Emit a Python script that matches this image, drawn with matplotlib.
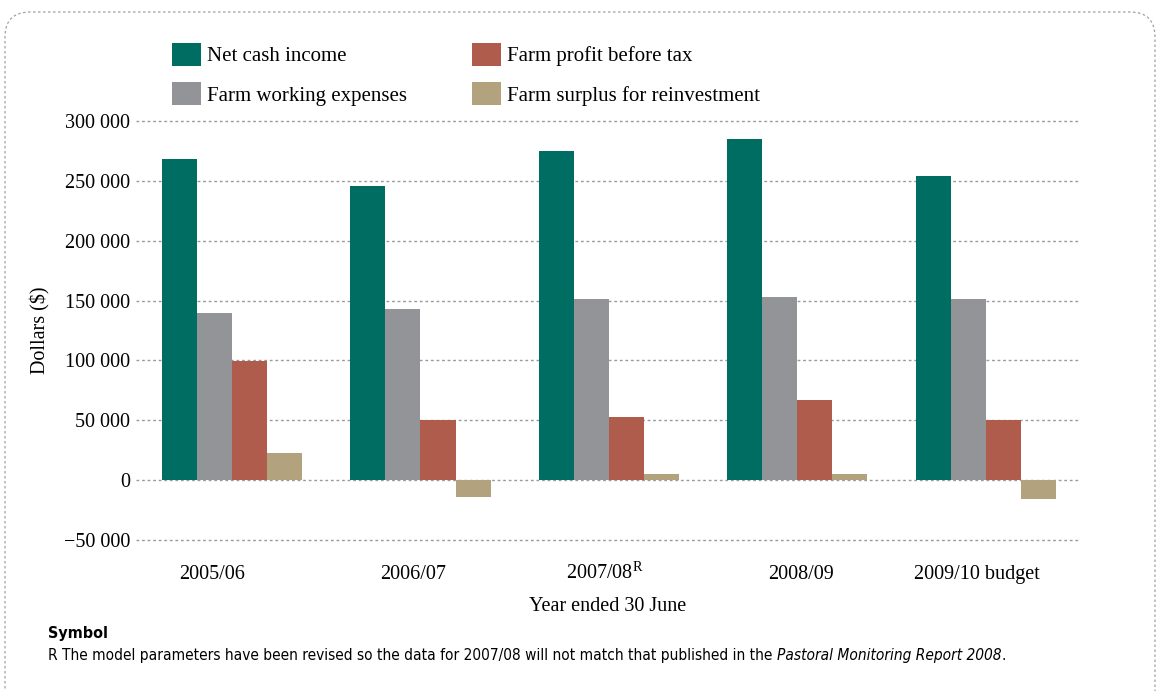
"""Farm income, expenses, profit and surplus by year - grouped bars"""
import matplotlib
matplotlib.use("Agg")
import matplotlib.pyplot as plt
import matplotlib.patches as mpatches
from matplotlib.ticker import FuncFormatter
import numpy as np

plt.rcParams['font.family'] = ['Liberation Serif', 'DejaVu Serif']
plt.rcParams['mathtext.fontset'] = 'custom'
plt.rcParams['mathtext.rm'] = 'Liberation Serif'

years = ['2005/06', '2006/07', '2007/08$^{\\mathrm{R}}$', '2008/09', '2009/10 budget']
series_names = ['Net cash income', 'Farm working expenses',
                'Farm profit before tax', 'Farm surplus for reinvestment']
net_cash_income = [268000, 245500, 275000, 285000, 254000]
working_expenses = [140000, 143000, 151000, 153000, 151000]
profit_before_tax = [99500, 50000, 52500, 67000, 50000]
surplus_reinvest = [23000, -14000, 5000, 5000, -16000]
colours = ['#006D62', '#939498', '#B05C4C', '#B3A27E']
# labels in the original are not centred exactly under their groups
label_shift = [-0.106, -0.04, -0.02, 0.02, -0.045]

fig = plt.figure(figsize=(11.58, 6.91), dpi=100)
ax = fig.add_axes([0.1174, 0.215, 0.8152, 0.6133])

x = np.arange(len(years))
w = 0.186
all_series = [net_cash_income, working_expenses, profit_before_tax, surplus_reinvest]
handles = []
for i, (vals, col) in enumerate(zip(all_series, colours)):
    b = ax.bar(x + (i - 1.5) * w, vals, width=w, color=col, zorder=3,
               label=series_names[i])
    handles.append(b)

ax.set_ylim(-52000, 302000)
ax.set_xlim(-0.51, 4.5)
ax.set_yticks(np.arange(-50000, 300001, 50000))
ax.yaxis.set_major_formatter(FuncFormatter(
    lambda v, p: f"{v:,.0f}".replace(',', ' ').replace('-', '\u2212')))
ax.grid(axis='y', color='#9a9a9a', linestyle=(0, (2, 2)), linewidth=1, zorder=0)
ax.set_xticks(x + np.array(label_shift))
ax.set_xticklabels(years)
ax.tick_params(length=0, labelsize=14.5)
ax.tick_params(axis='y', pad=4)
ax.tick_params(axis='x', pad=26)
for lab in ax.get_xticklabels():
    lab.set_verticalalignment('baseline')
for s in ax.spines.values():
    s.set_visible(False)

ax.set_ylabel('Dollars ($)', fontsize=14.5, labelpad=10)
ax.set_xlabel('Year ended 30 June', fontsize=14.5, labelpad=10)

# legend, two columns
fig.legend(handles, series_names,
           ncol=2, loc='upper left', bbox_to_anchor=(172 / 1158, 1 - 43 / 691),
           frameon=False, fontsize=15, handlelength=1.4, handleheight=1.3,
           columnspacing=3.1, labelspacing=0.76, handletextpad=0.3,
           borderpad=0, borderaxespad=0)

# footnote
sans = ['DejaVu Sans']
fig.text(0.0415, 0.077, 'Symbol', fontsize=11.5, fontweight='bold',
         family=sans, stretch='condensed')
t1 = fig.text(0.0415, 0.045,
              'R The model parameters have been revised so the data for 2007/08 '
              'will not match that published in the ',
              fontsize=11.1, family=sans, stretch='condensed')
t2 = fig.text(0, 0, 'Pastoral Monitoring Report 2008', fontsize=11.1, style='italic',
              family=sans, stretch='condensed')
t3 = fig.text(0, 0, '.', fontsize=11.1, family=sans, stretch='condensed')
fig.canvas.draw()
r = fig.canvas.get_renderer()
bb1 = t1.get_window_extent(r).transformed(fig.transFigure.inverted())
t2.set_position((bb1.x1, 0.045))
bb2 = t2.get_window_extent(r).transformed(fig.transFigure.inverted())
t3.set_position((bb2.x1, 0.045))

# dashed rounded frame
frame = mpatches.FancyBboxPatch((0.05, -0.4), 11.5, 6.79 + 0.4,
                                boxstyle='round,pad=0,rounding_size=0.25',
                                transform=fig.dpi_scale_trans, fill=False,
                                edgecolor='#a0a0a0', linestyle=(0, (2, 2)),
                                linewidth=0.9)
fig.patches.append(frame)

fig.savefig('out.png', dpi=100)
